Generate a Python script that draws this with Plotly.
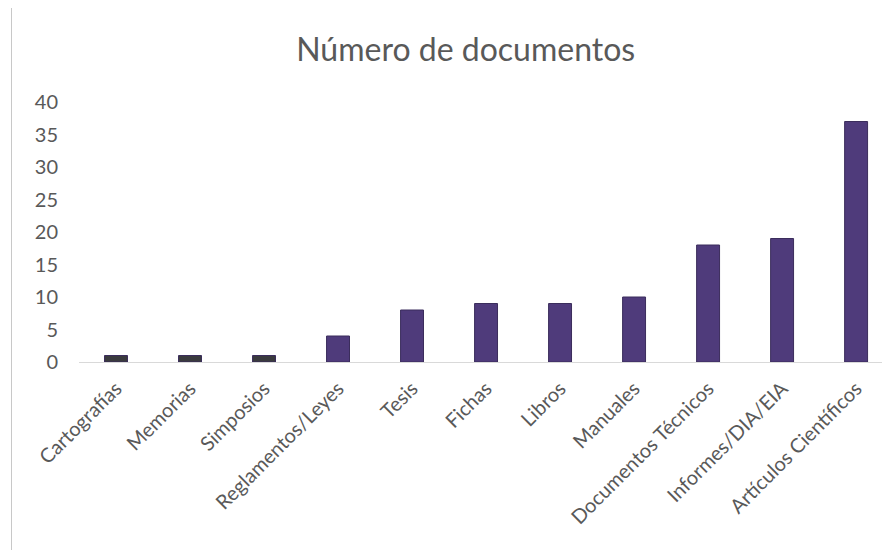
import plotly.graph_objects as go

# Document counts by type
categories = [
    "Cartografías", "Memorias", "Simposios", "Reglamentos/Leyes", "Tesis",
    "Fichas", "Libros", "Manuales", "Documentos Técnicos",
    "Informes/DIA/EIA", "Artículos Científicos",
]
counts = [1, 1, 1, 4, 8, 9, 9, 10, 18, 19, 37]
y_ticks = [0, 5, 10, 15, 20, 25, 30, 35, 40]

purple = "#4f3b7b"
dark = "#3a3a3e"
bar_colors = [dark if v <= 1 else purple for v in counts]

fig = go.Figure(
    go.Bar(
        x=categories,
        y=counts,
        marker=dict(color=bar_colors, line=dict(color="#3b2d5c", width=1)),
        width=0.31,
    )
)

font_family = "Lato, 'Open Sans', sans-serif"

fig.update_layout(
    width=882,
    height=550,
    margin=dict(l=79, r=0, t=102, b=188),
    paper_bgcolor="white",
    plot_bgcolor="white",
    showlegend=False,
    title=dict(
        text="Número de documentos",
        x=0.528,
        xanchor="center",
        y=0.91,
        yanchor="middle",
        font=dict(family=font_family, size=32, color="#595959"),
    ),
    font=dict(family=font_family, color="#595959"),
)

fig.update_xaxes(
    range=[-0.5, 10.35],
    tickangle=-45,
    tickfont=dict(size=20, color="#595959"),
    showline=True,
    linecolor="#d9d9d9",
    linewidth=1,
    showgrid=False,
    ticks="",
    ticklabelstandoff=6,
    fixedrange=True,
)

fig.update_yaxes(
    range=[0, 40],
    tickvals=y_ticks,
    tickfont=dict(size=20, color="#595959"),
    showline=False,
    showgrid=False,
    zeroline=False,
    ticks="",
    ticklabelstandoff=20,
    fixedrange=True,
)

# thin frame line on the left edge
fig.add_shape(
    type="line",
    xref="paper", yref="paper",
    x0=-79 / 803 + 11.5 / 803, x1=-79 / 803 + 11.5 / 803,
    y0=(550 - 188 - 8) / 260, y1=-188 / 260,
    line=dict(color="#c8c8c8", width=1),
)

fig.write_html("out.html")
